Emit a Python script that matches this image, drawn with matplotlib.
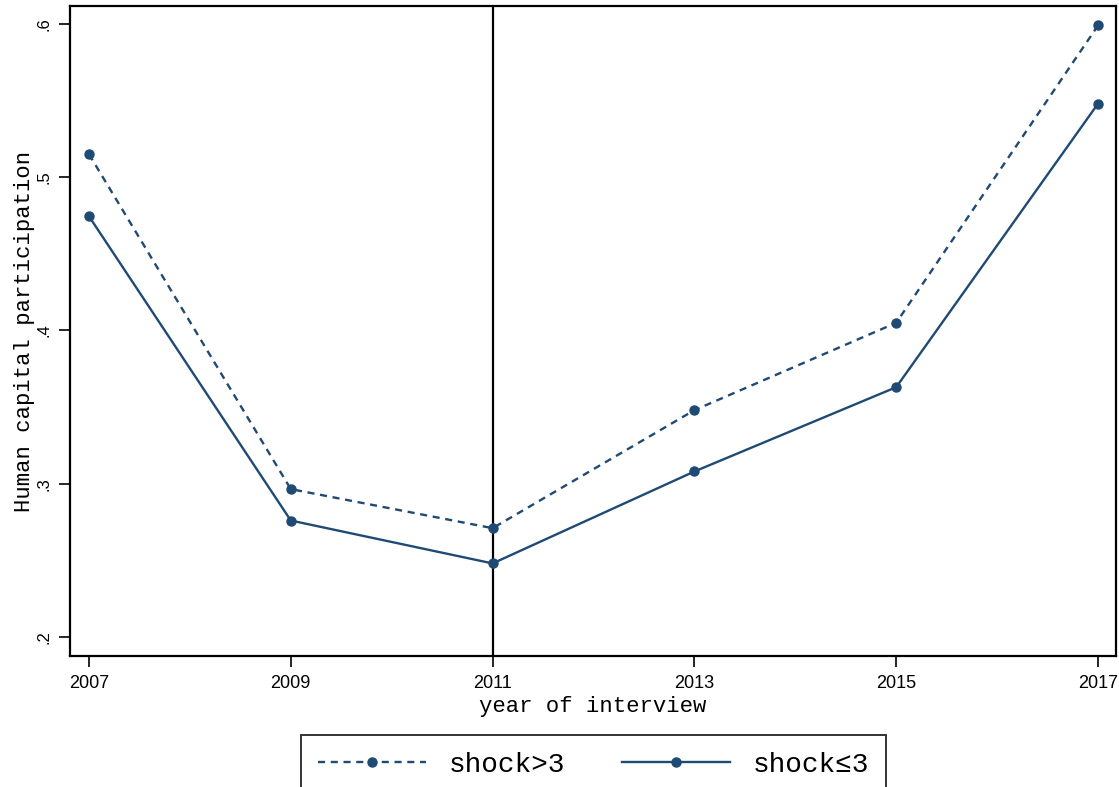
import matplotlib
matplotlib.use("Agg")
import matplotlib.pyplot as plt
from matplotlib.lines import Line2D

years = [2007, 2009, 2011, 2013, 2015, 2017]
shock_high = [0.515, 0.2965, 0.271, 0.348, 0.405, 0.599]
shock_low = [0.4745, 0.276, 0.248, 0.308, 0.363, 0.548]
yticks = [0.2, 0.3, 0.4, 0.5, 0.6]
ytick_labels = [".2", ".3", ".4", ".5", ".6"]
event_year = 2011

navy = "#1f4a73"
mono = "Liberation Mono"
sans = "Liberation Sans"
dash = (0, (3.0, 2.4))

fig = plt.figure(figsize=(11.19, 7.87), dpi=100)
ax = fig.add_axes([70 / 1119, 131 / 787, 1046 / 1119, 650 / 787])

ax.plot(years, shock_high, color=navy, lw=1.7, ls=dash,
        marker="o", ms=6.5, label="shock>3")
ax.plot(years, shock_low, color=navy, lw=1.7, ls="-",
        marker="o", ms=6.5, label="shock\u22643")
ax.axvline(event_year, color="black", lw=1.6, zorder=1)

ax.set_xlim(2006.812, 2017.178)
ax.set_ylim(0.1876, 0.6117)
ax.set_xticks(years)
ax.set_xticklabels([str(y) for y in years], fontfamily=sans, fontsize=13)
ax.set_yticks(yticks)
ax.set_yticklabels(ytick_labels, fontfamily=sans, fontsize=12,
                   rotation=90, va="center")

for s in ax.spines.values():
    s.set_linewidth(1.6)
    s.set_color("black")
ax.tick_params(axis="both", length=8, width=1.2, color="black", pad=5.5)

ax.set_xlabel("year of interview", fontfamily=mono, fontsize=16, labelpad=3)
ax.set_ylabel("Human capital participation", fontfamily=mono, fontsize=16,
              labelpad=1)

handles = [
    Line2D([], [], color=navy, lw=1.7, ls=dash, marker="o", ms=6.5),
    Line2D([], [], color=navy, lw=1.7, ls="-", marker="o", ms=6.5),
]
leg = fig.legend(handles, ["shock>3", "shock\u22643"], ncol=2,
                 loc="upper center", bbox_to_anchor=(593.5 / 1119, 1 - 735 / 787),
                 prop={"family": mono, "size": 20}, frameon=True,
                 fancybox=False, edgecolor="black", handlelength=3.9,
                 handletextpad=0.8, columnspacing=2.05, borderpad=0.6,
                 borderaxespad=0)
leg.get_frame().set_linewidth(1.4)

fig.savefig("out.png", dpi=100)
